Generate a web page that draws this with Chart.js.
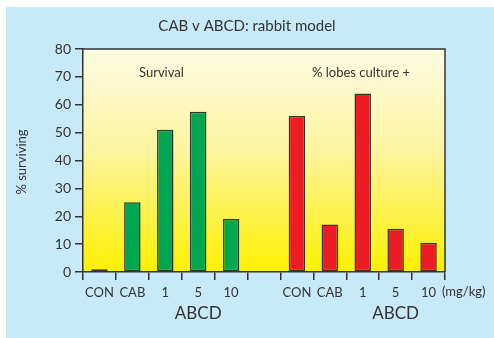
<!DOCTYPE html>
<html>
<head>
<meta charset="utf-8">
<script src="https://cdn.jsdelivr.net/npm/chart.js@4"></script>
<style>
  html, body { margin: 0; padding: 0; background: #ffffff; }
  #wrap { position: relative; width: 494px; height: 338px; }
</style>
</head>
<body>
<div id="wrap"><canvas id="c" width="494" height="338"></canvas></div>
<script>
// Dose groups shown twice: once for survival, once for culture-positive lobes
const doses = ['CON', 'CAB', '1', '5', '10'];
const survival = [1, 25, 51, 57.5, 19];
const culturePositive = [56, 17, 64, 15.5, 10.5];
const yTicks = [0, 10, 20, 30, 40, 50, 60, 70, 80];

const labels = [...doses, '', ...doses];
const gap = doses.length + 1;
const survivalData = [...survival, ...Array(gap).fill(null)];
const cultureData = [...Array(gap).fill(null), ...culturePositive];

const FONT = 'Lato, "Open Sans", sans-serif';
const INK = '#333333';

const decor = {
  id: 'decor',
  beforeDraw(chart) {
    const { ctx, chartArea: a } = chart;
    ctx.save();
    ctx.fillStyle = '#ffffff';
    ctx.fillRect(0, 0, chart.width, chart.height);
    ctx.fillStyle = '#c8e9f8';
    ctx.fillRect(6, 7, chart.width - 6, chart.height - 7);
    const g = ctx.createLinearGradient(0, a.top, 0, a.bottom);
    g.addColorStop(0, '#fdfbe4');
    g.addColorStop(0.45, '#fcf4a0');
    g.addColorStop(1, '#fdf000');
    ctx.fillStyle = g;
    ctx.fillRect(a.left, a.top, a.right - a.left, a.bottom - a.top);
    ctx.restore();
  },
  afterDraw(chart) {
    const { ctx, chartArea: a, scales } = chart;
    const x = scales.x;
    ctx.save();
    ctx.strokeStyle = INK;
    ctx.lineWidth = 1.5;
    ctx.beginPath();
    ctx.moveTo(a.left, a.top);
    ctx.lineTo(a.right, a.top);
    ctx.lineTo(a.right, a.bottom);
    ctx.stroke();

    ctx.fillStyle = INK;
    ctx.textBaseline = 'middle';
    ctx.textAlign = 'center';
    ctx.font = '15px ' + FONT;
    ctx.fillText('CAB v ABCD: rabbit model', 247, 26);

    ctx.font = '13px ' + FONT;
    ctx.textAlign = 'left';
    ctx.fillText('Survival', 139, 73);
    ctx.fillText('% lobes culture +', 312, 73);
    ctx.fillText('(mg/kg)', 442, 292);

    ctx.font = '17px ' + FONT;
    ctx.textAlign = 'center';
    ctx.fillText('ABCD', x.getPixelForValue(3), 314);
    ctx.fillText('ABCD', x.getPixelForValue(9), 314);

    ctx.font = '13px ' + FONT;
    ctx.translate(22, 162);
    ctx.rotate(-Math.PI / 2);
    ctx.fillText('% surviving', 0, 0);
    ctx.restore();
  }
};

new Chart(document.getElementById('c'), {
  type: 'bar',
  data: {
    labels: labels,
    datasets: [
      {
        label: 'Survival',
        data: survivalData,
        backgroundColor: '#00a651',
        borderColor: INK,
        borderWidth: 1.5,
        borderSkipped: false,
        grouped: false,
        barPercentage: 0.5,
        categoryPercentage: 1
      },
      {
        label: '% lobes culture +',
        data: cultureData,
        backgroundColor: '#ed1c24',
        borderColor: INK,
        borderWidth: 1.5,
        borderSkipped: false,
        grouped: false,
        barPercentage: 0.5,
        categoryPercentage: 1
      }
    ]
  },
  options: {
    responsive: false,
    animation: false,
    devicePixelRatio: 1,
    layout: { padding: { left: 0, top: 49, right: 49, bottom: 0 } },
    plugins: { legend: { display: false }, tooltip: { enabled: false }, title: { display: false } },
    scales: {
      y: {
        min: 0,
        max: 80,
        afterFit(s) { s.width = 83; },
        afterBuildTicks(s) { s.ticks = yTicks.map(v => ({ value: v })); },
        border: { display: true, color: INK, width: 1.5 },
        grid: { drawOnChartArea: false, color: INK, lineWidth: 1.5, tickLength: 8 },
        ticks: { color: INK, font: { family: FONT, size: 14 }, padding: 4 }
      },
      x: {
        afterFit(s) { s.height = 66; },
        border: { display: true, color: INK, width: 1.5 },
        grid: { drawOnChartArea: false, color: INK, lineWidth: 1.5, tickLength: 8, offset: true },
        ticks: { color: INK, font: { family: FONT, size: 13 }, padding: 5, maxRotation: 0, autoSkip: false }
      }
    }
  },
  plugins: [decor]
});
</script>
</body>
</html>
